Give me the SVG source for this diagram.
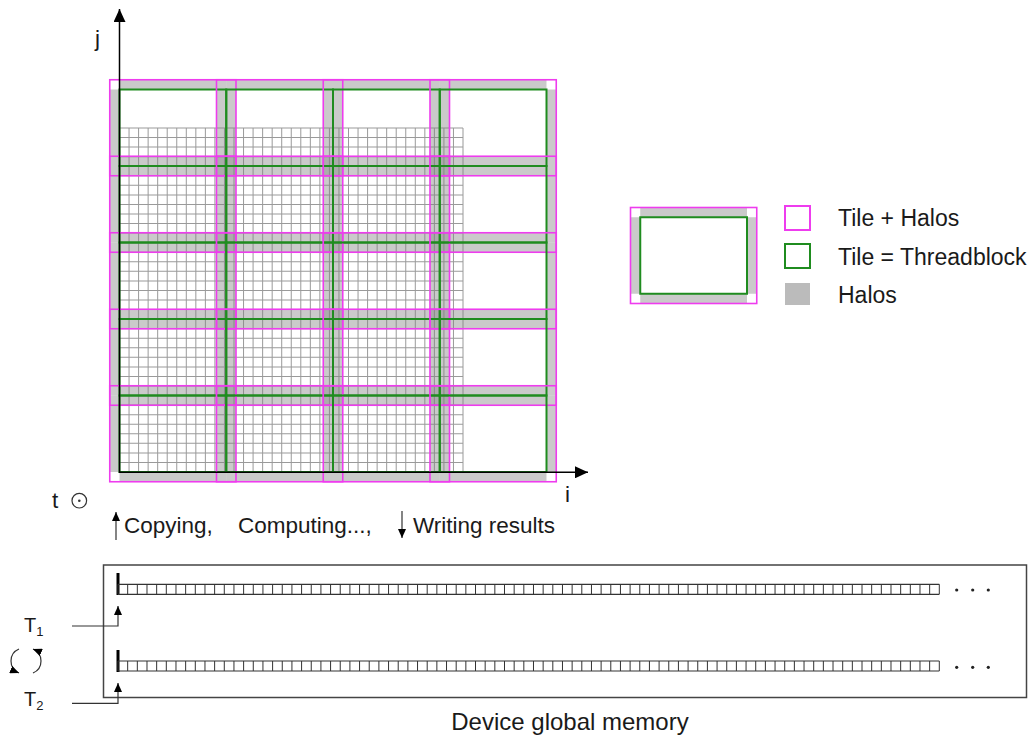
<svg xmlns="http://www.w3.org/2000/svg" width="1029" height="738" viewBox="0 0 1029 738">
<style>
text{font-family:"Liberation Sans",Arial,sans-serif;fill:#1a1a1a}
.lbl{font-size:22.5px}
.leg{font-size:23px}
.halo{fill:#808080;fill-opacity:.42}
.grn{fill:none;stroke:#1f8c1f;stroke-width:2}
.mag{fill:none;stroke:#ee3cee;stroke-width:1.6}
.ax{stroke:#000;stroke-width:1.5;fill:none}
.thin{stroke:#333;stroke-width:1.2;fill:none}
.fine{stroke:#9a9a9a;fill:none}
.bar{stroke:#000;stroke-width:3}
</style>
<defs>
<marker id="axhead" markerUnits="userSpaceOnUse" markerWidth="14" markerHeight="12" refX="13" refY="6" orient="auto"><path d="M0,0L13,6L0,12z" fill="#000"/></marker>
<marker id="small" markerUnits="userSpaceOnUse" markerWidth="10" markerHeight="8" refX="9" refY="4" orient="auto"><path d="M0,0L9,4L0,8z" fill="#000"/></marker>
<g id="halo" class="halo">
<rect x="0" y="-9.75" width="106.75" height="9.75"/>
<rect x="0" y="76.5" width="106.75" height="9.75"/>
<rect x="-9.75" y="0" width="9.75" height="76.5"/>
<rect x="106.75" y="0" width="9.75" height="76.5"/>
</g>
<g id="frame">
<rect class="grn" x="0" y="0" width="106.75" height="76.5"/>
<rect class="mag" x="-9.75" y="-9.75" width="126.25" height="96"/>
</g>
</defs>
<rect width="1029" height="738" fill="#fff"/>

<g id="fine-grid">
<line class="fine" x1="119" y1="300" x2="463.6" y2="300" stroke-width="344" stroke-dasharray="1 8.5417"/>
<line class="fine" x1="291.25" y1="127.5" x2="291.25" y2="472.6" stroke-width="343.5" stroke-dasharray="1 8.5556"/>
</g>

<g id="halos">
<use href="#halo" x="119.5" y="89.5"/><use href="#halo" x="226.25" y="89.5"/><use href="#halo" x="333" y="89.5"/><use href="#halo" x="439.75" y="89.5"/>
<use href="#halo" x="119.5" y="166"/><use href="#halo" x="226.25" y="166"/><use href="#halo" x="333" y="166"/><use href="#halo" x="439.75" y="166"/>
<use href="#halo" x="119.5" y="242.5"/><use href="#halo" x="226.25" y="242.5"/><use href="#halo" x="333" y="242.5"/><use href="#halo" x="439.75" y="242.5"/>
<use href="#halo" x="119.5" y="319"/><use href="#halo" x="226.25" y="319"/><use href="#halo" x="333" y="319"/><use href="#halo" x="439.75" y="319"/>
<use href="#halo" x="119.5" y="395.5"/><use href="#halo" x="226.25" y="395.5"/><use href="#halo" x="333" y="395.5"/><use href="#halo" x="439.75" y="395.5"/>
</g>

<g id="tiles">
<g id="tile-r1c1"><use href="#frame" x="119.5" y="89.5"/></g>
<g id="tile-r1c2"><use href="#frame" x="226.25" y="89.5"/></g>
<g id="tile-r1c3"><use href="#frame" x="333" y="89.5"/></g>
<g id="tile-r1c4"><use href="#frame" x="439.75" y="89.5"/></g>
<g id="tile-r2c1"><use href="#frame" x="119.5" y="166"/></g>
<g id="tile-r2c2"><use href="#frame" x="226.25" y="166"/></g>
<g id="tile-r2c3"><use href="#frame" x="333" y="166"/></g>
<g id="tile-r2c4"><use href="#frame" x="439.75" y="166"/></g>
<g id="tile-r3c1"><use href="#frame" x="119.5" y="242.5"/></g>
<g id="tile-r3c2"><use href="#frame" x="226.25" y="242.5"/></g>
<g id="tile-r3c3"><use href="#frame" x="333" y="242.5"/></g>
<g id="tile-r3c4"><use href="#frame" x="439.75" y="242.5"/></g>
<g id="tile-r4c1"><use href="#frame" x="119.5" y="319"/></g>
<g id="tile-r4c2"><use href="#frame" x="226.25" y="319"/></g>
<g id="tile-r4c3"><use href="#frame" x="333" y="319"/></g>
<g id="tile-r4c4"><use href="#frame" x="439.75" y="319"/></g>
<g id="tile-r5c1"><use href="#frame" x="119.5" y="395.5"/></g>
<g id="tile-r5c2"><use href="#frame" x="226.25" y="395.5"/></g>
<g id="tile-r5c3"><use href="#frame" x="333" y="395.5"/></g>
<g id="tile-r5c4"><use href="#frame" x="439.75" y="395.5"/></g>
</g>

<g id="axes">
<line class="ax" x1="119.5" y1="473" x2="119.5" y2="9" marker-end="url(#axhead)"/>
<line class="ax" x1="119.5" y1="472.3" x2="588" y2="472.3" marker-end="url(#axhead)"/>
<text class="lbl" x="95" y="46">j</text>
<text class="lbl" x="565" y="502">i</text>
<text class="lbl" x="52" y="508">t</text>
<circle cx="79.3" cy="500.7" r="7.3" fill="none" stroke="#333" stroke-width="1.2"/>
<circle cx="79.3" cy="500.7" r="1.3" fill="#333"/>
</g>

<g id="phases">
<line class="thin" x1="116" y1="540" x2="116" y2="512" marker-end="url(#small)"/>
<text class="lbl" x="124" y="533">Copying,</text>
<text class="lbl" x="238" y="533">Computing...,</text>
<line class="thin" x1="402" y1="511" x2="402" y2="538" marker-end="url(#small)"/>
<text class="lbl" x="413" y="533">Writing results</text>
</g>

<g id="legend">
<use href="#halo" x="640.25" y="217.25"/>
<use href="#frame" x="640.25" y="217.25"/>
<rect x="785" y="206" width="25" height="24" fill="#fff" stroke="#ee3cee" stroke-width="2"/>
<rect x="785" y="244" width="25" height="24" fill="#fff" stroke="#1f8c1f" stroke-width="2"/>
<rect x="785" y="283" width="25" height="22" fill="#bbb"/>
<text class="leg" x="838" y="226">Tile + Halos</text>
<text class="leg" x="838" y="265">Tile = Threadblock</text>
<text class="leg" x="838" y="303">Halos</text>
</g>

<g id="memory">
<rect x="103.5" y="565" width="923" height="132.5" fill="none" stroke="#444" stroke-width="1.5"/>
<line class="bar" x1="118" y1="573" x2="118" y2="595"/>
<path class="thin" d="M118,584.3H939.3M118,594.3H939.3"/>
<line x1="117.5" y1="589.3" x2="940" y2="589.3" stroke="#333" stroke-width="10" stroke-dasharray="1 8.6624"/>
<line class="bar" x1="118" y1="650" x2="118" y2="672"/>
<path class="thin" d="M118,661H939.3M118,671H939.3"/>
<line x1="117.5" y1="666" x2="940" y2="666" stroke="#333" stroke-width="10" stroke-dasharray="1 8.6624"/>
<g fill="#222">
<circle cx="956.7" cy="590" r="1.6"/><circle cx="972.7" cy="590" r="1.6"/><circle cx="988.3" cy="590" r="1.6"/>
<circle cx="956.7" cy="667.3" r="1.6"/><circle cx="972.7" cy="667.3" r="1.6"/><circle cx="988.3" cy="667.3" r="1.6"/>
</g>
<text x="570" y="730" text-anchor="middle" style="font-size:24px">Device global memory</text>
</g>

<g id="connectors">
<path class="thin" d="M72,626H118V606" marker-end="url(#small)"/>
<path class="thin" d="M72,703.3H118V683" marker-end="url(#small)"/>
<path class="thin" d="M19,649A13,13 0 0 0 19,673" marker-end="url(#small)"/>
<path class="thin" d="M33,673A13,13 0 0 0 33,649" marker-end="url(#small)"/>
</g>

<g id="threads">
<text x="24" y="632" style="font-size:20px">T<tspan dy="4" style="font-size:13px">1</tspan></text>
<text x="24" y="706" style="font-size:20px">T<tspan dy="4" style="font-size:13px">2</tspan></text>
</g>
</svg>
